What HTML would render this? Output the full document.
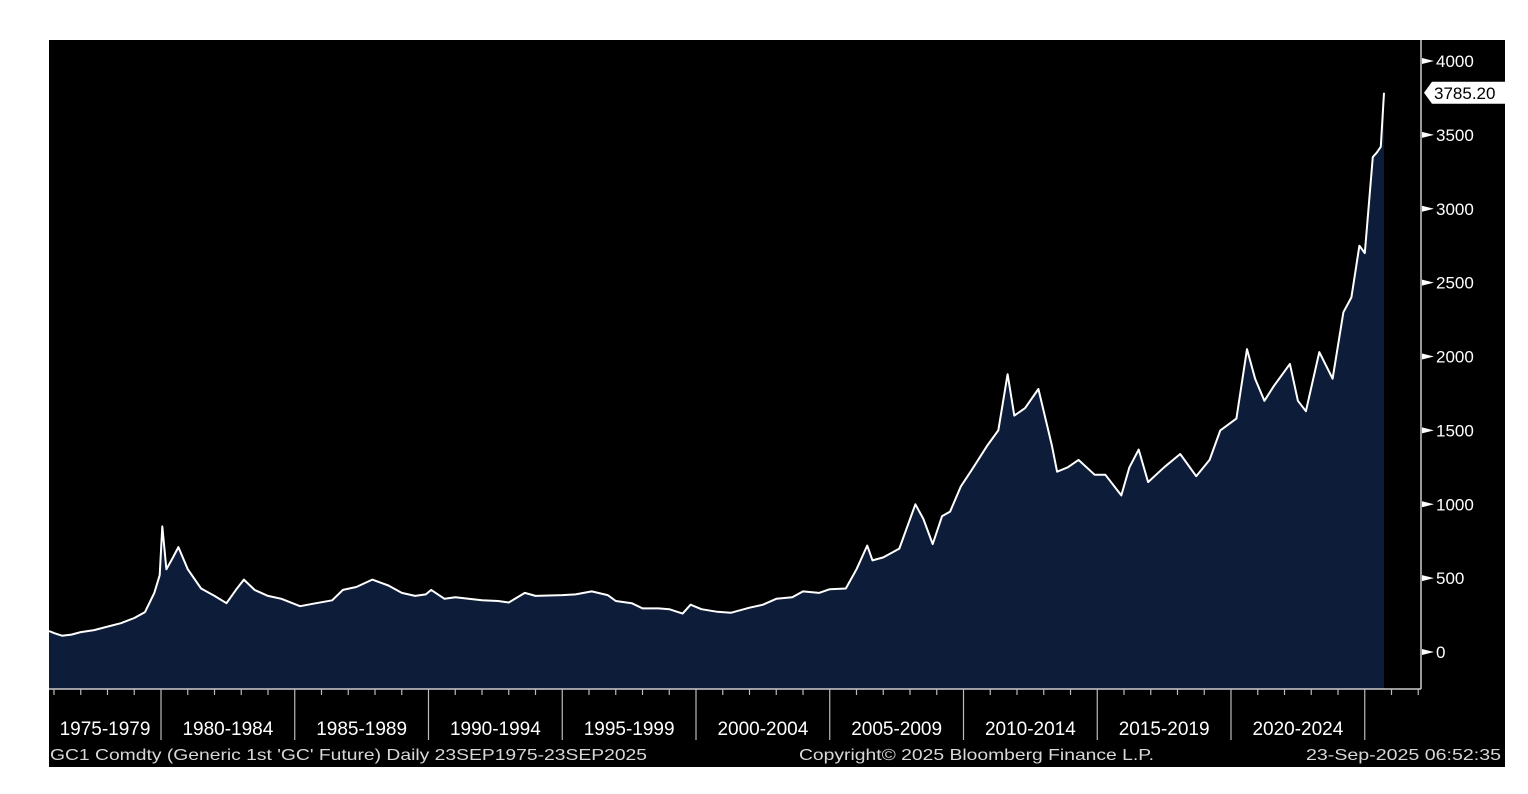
<!DOCTYPE html>
<html><head><meta charset="utf-8"><style>
html,body{margin:0;padding:0;background:#fff;}
svg{display:block;font-family:"Liberation Sans",sans-serif;}
</style></head><body>
<svg id="chart" width="1528" height="794" viewBox="0 0 1528 794" xmlns="http://www.w3.org/2000/svg">
<rect x="49" y="40" width="1456" height="727" fill="#000"/>
<g id="plot"></g>
<g id="axes"></g>
<text x="50" y="760" fill="#d8d8d8" font-size="16" textLength="597" lengthAdjust="spacingAndGlyphs">GC1 Comdty (Generic 1st 'GC' Future)  Daily 23SEP1975-23SEP2025</text>
<text x="799" y="760" fill="#d8d8d8" font-size="16" textLength="355" lengthAdjust="spacingAndGlyphs">Copyright© 2025 Bloomberg Finance L.P.</text>
<text x="1306" y="760" fill="#d8d8d8" font-size="16" textLength="195" lengthAdjust="spacingAndGlyphs">23-Sep-2025 06:52:35</text>
</svg>
<script>
const dates=[1975.8,1976.0,1976.3,1976.65,1977.0,1977.5,1978.0,1978.5,1979.0,1979.4,1979.75,1979.95,1980.05,1980.2,1980.45,1980.65,1981.0,1981.5,1982.0,1982.45,1982.8,1983.1,1983.5,1984.0,1984.5,1985.2,1985.8,1986.4,1986.8,1987.3,1987.9,1988.5,1989.0,1989.5,1989.9,1990.1,1990.6,1991.0,1991.5,1992.0,1992.6,1993.0,1993.6,1994.0,1995.0,1995.5,1996.1,1996.7,1997.0,1997.6,1998.0,1998.6,1999.0,1999.5,1999.8,2000.2,2000.8,2001.3,2002.0,2002.5,2003.0,2003.6,2004.0,2004.6,2005.0,2005.6,2006.0,2006.4,2006.6,2007.0,2007.6,2008.2,2008.5,2008.85,2009.2,2009.5,2009.9,2010.3,2010.9,2011.3,2011.65,2011.9,2012.3,2012.8,2013.3,2013.5,2013.9,2014.3,2014.9,2015.3,2015.9,2016.2,2016.55,2016.9,2017.5,2018.1,2018.7,2019.2,2019.6,2020.2,2020.6,2020.9,2021.25,2021.6,2022.2,2022.5,2022.8,2023.3,2023.8,2024.2,2024.5,2024.8,2025.0,2025.3,2025.45,2025.6,2025.72];
const prices=[142,128,110,118,135,148,172,195,230,270,400,520,850,560,640,710,560,430,380,330,420,490,420,380,360,310,330,350,420,440,490,450,400,380,390,420,360,370,360,350,345,335,400,380,385,390,410,385,345,330,295,295,290,260,320,290,272,265,300,320,360,370,410,400,425,430,560,720,620,640,700,1000,900,730,920,950,1120,1230,1400,1500,1880,1600,1650,1780,1400,1220,1250,1300,1200,1200,1060,1250,1370,1150,1250,1340,1190,1300,1500,1580,2050,1850,1700,1800,1950,1700,1630,2030,1850,2300,2400,2750,2700,3350,3380,3420,3785];
const yTicks=[0,500,1000,1500,2000,2500,3000,3500,4000];
const periodLabels=["1975-1979","1980-1984","1985-1989","1990-1994","1995-1999","2000-2004","2005-2009","2010-2014","2015-2019","2020-2024"];
const lastValue="3785.20";
const NS="http://www.w3.org/2000/svg";
const X=t=>161+(t-1980)*26.75;
const Y=v=>652-v*(591/4000);
function mk(tag,attrs,parent){const e=document.createElementNS(NS,tag);for(const k in attrs)e.setAttribute(k,attrs[k]);parent.appendChild(e);return e;}
const plot=document.getElementById('plot'),axes=document.getElementById('axes');
let d="";dates.forEach((t,i)=>{d+=(i?"L":"M")+Math.max(49,X(t)).toFixed(1)+","+Y(prices[i]).toFixed(1);});
const area=mk('path',{d:d+"L"+X(dates[dates.length-1]).toFixed(1)+",689L49,689Z",fill:"#0d1c38"},plot);


const line=mk('path',{d:d,fill:"none",stroke:"#fff","stroke-width":"2","stroke-linejoin":"round"},plot);


const ya=mk('line',{x1:1421,y1:40,x2:1421,y2:689,stroke:"#ccc","stroke-width":1.5},axes);


const xa=mk('line',{x1:49,y1:689,x2:1421,y2:689,stroke:"#ccc","stroke-width":1.5},axes);


yTicks.forEach(v=>{const y=Y(v);
 const m=mk('path',{d:`M1422,${y-3}L1434,${y}L1422,${y+3}Z`,fill:"#fff"},axes);
 
 
 const t=mk('text',{x:1436,y:y+6,fill:"#fff","font-size":17},axes);t.textContent=v;
 
 
});
for(let yr=1976;yr<=2027;yr++){const x=X(yr);if(x>1421)break;
 const major=yr%5===0;
 const l=mk('line',{x1:x,y1:689,x2:x,y2:major?740:695,stroke:"#bbb","stroke-width":1.2},axes);
 
 
}
periodLabels.forEach((s,i)=>{const x0=i===0?49:X(1975+5*i),x1=X(1980+5*i);
 const t=mk('text',{x:(x0+x1)/2,y:735,fill:"#fff","font-size":19,"text-anchor":"middle"},axes);t.textContent=s;
 
 
});
const ly=Y(prices[prices.length-1]);
const tag=mk('path',{d:`M1424,${ly}L1432,${ly-11}L1505,${ly-11}L1505,${ly+11}L1432,${ly+11}Z`,fill:"#fff"},axes);


const lt=mk('text',{x:1434,y:ly+6,fill:"#000","font-size":17},axes);lt.textContent=lastValue;


</script>
</body></html>
